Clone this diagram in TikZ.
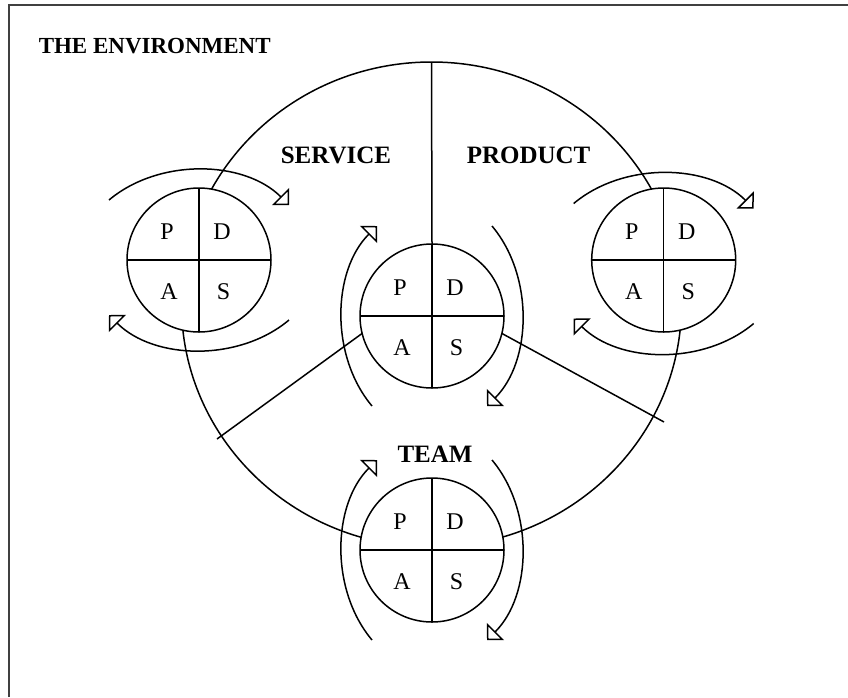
\documentclass[tikz,border=0pt]{standalone}
\usepackage{fontspec}
\setmainfont{Liberation Serif}
\usetikzlibrary{arrows.meta,shapes.geometric,calc}
\begin{document}
\begin{tikzpicture}[x=1pt,y=-1pt,line width=1.5pt,
  pdca/.style={circle,draw,fill=white,minimum size=144pt,inner sep=0pt,outer sep=0pt},
  envshape/.style={ellipse,draw,minimum width=500pt,minimum height=485pt,inner sep=0pt,outer sep=0pt},
  lbl/.style={font=\fontsize{24}{24}\selectfont,inner sep=0pt},
  region/.style={font=\bfseries\fontsize{25}{25}\selectfont,inner sep=0pt},
  cyc/.style={-{Triangle[open,length=12pt,width=24pt,fill=white]}},
  frameline/.style={draw=black!75,line width=1.7pt}]
\useasboundingbox (0,0) rectangle (848,697);
\draw[frameline] (9,697) -- (9,5) -- (848,5);
\node[region,font=\bfseries\fontsize{23}{23}\selectfont,anchor=base west] (title) at (38,53) {THE ENVIRONMENT};
% environment
\node[envshape] (env) at (431.5,304.5) {};
\coordinate (cl) at (217,439);
\coordinate (cr) at (664,422);
\node[pdca] (C) at (432,316) {};
\draw (env.north) -- (C.north);
\draw (C.194) -- (cl);
\draw (C.-14.5) -- (cr);
\node[pdca] (L) at (199,260) {};
\node[pdca] (R) at (663.7,260) {};
\node[pdca] (T) at (432,550) {};
\foreach \c in {L,C,R,T}{
  \draw (\c.north) -- (\c.south);
  \draw (\c.west) -- (\c.east);
  \node[lbl] (\c-P) at ($(\c)+(-32,-28.5)$) {P};
  \node[lbl] (\c-D) at ($(\c)+(23,-28.5)$) {D};
  \node[lbl] (\c-A) at ($(\c)+(-30,31.5)$) {A};
  \node[lbl] (\c-S) at ($(\c)+(24.5,31.5)$) {S};
}
% region labels
\node[region,anchor=base west] (service) at (280,163.3) {SERVICE};
\node[region,anchor=base west] (product) at (466,163.3) {PRODUCT};
\node[region,anchor=base] (team) at (435,462.3) {TEAM};
% cycle arrows: left circle
\draw[cyc] ($(L)+(-90,-60)$) .. controls ($(L)+(-40,-102)$) and ($(L)+(45,-100)$) .. ($(L)+(90,-55)$);
\draw[cyc] ($(L)+(90,60)$) .. controls ($(L)+(40,102)$) and ($(L)+(-45,100)$) .. ($(L)+(-90,55)$);
% right circle
\coordinate (Ra) at ($(R)+(0,3.5)$);
\draw[cyc] ($(Ra)+(-90,-60)$) .. controls ($(Ra)+(-40,-102)$) and ($(Ra)+(45,-100)$) .. ($(Ra)+(90,-55)$);
\draw[cyc] ($(Ra)+(90,60)$) .. controls ($(Ra)+(40,102)$) and ($(Ra)+(-45,100)$) .. ($(Ra)+(-90,55)$);
% centre circle
\draw[cyc] ($(C)+(-60,90)$) .. controls ($(C)+(-102,40)$) and ($(C)+(-100,-45)$) .. ($(C)+(-55,-90)$);
\draw[cyc] ($(C)+(60,-90)$) .. controls ($(C)+(102,-40)$) and ($(C)+(100,45)$) .. ($(C)+(55,90)$);
% team circle
\draw[cyc] ($(T)+(-60,90)$) .. controls ($(T)+(-102,40)$) and ($(T)+(-100,-45)$) .. ($(T)+(-55,-90)$);
\draw[cyc] ($(T)+(60,-90)$) .. controls ($(T)+(102,-40)$) and ($(T)+(100,45)$) .. ($(T)+(55,90)$);
\end{tikzpicture}
\end{document}
